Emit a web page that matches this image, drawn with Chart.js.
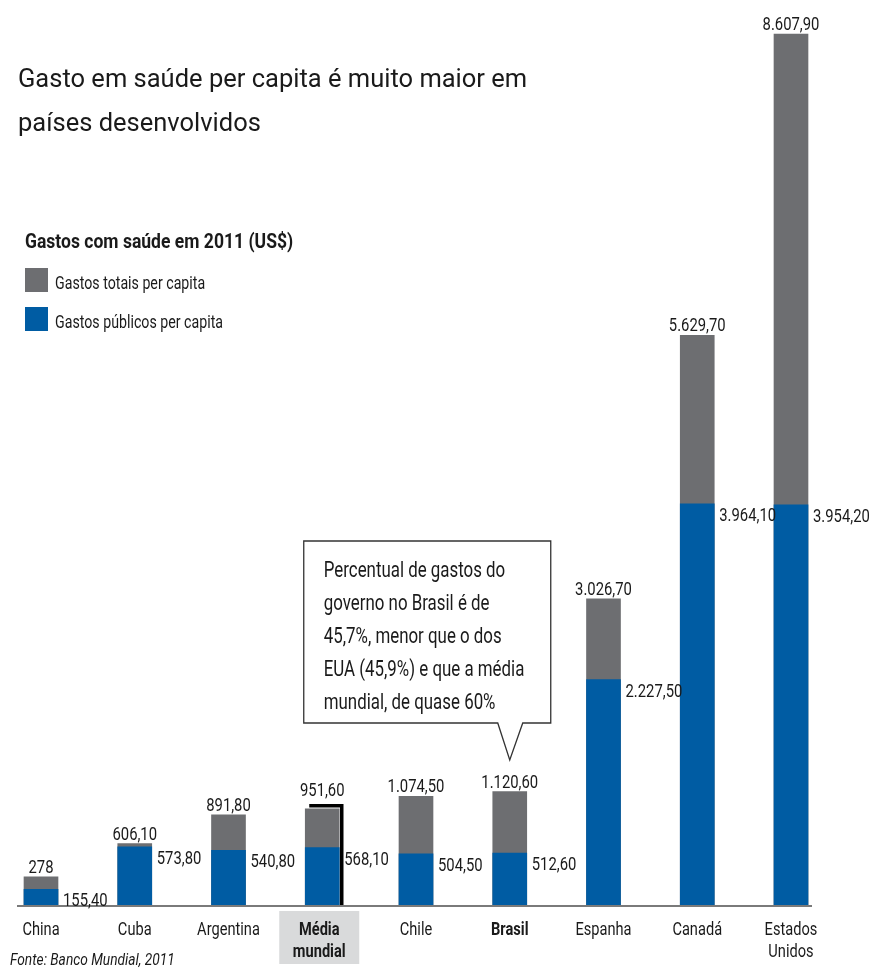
<!DOCTYPE html>
<html lang="pt-BR">
<head>
<meta charset="utf-8">
<script src="https://cdn.jsdelivr.net/npm/chart.js@4.4.1/dist/chart.umd.min.js"></script>
<style>
  html, body { margin: 0; padding: 0; background: #fff; }
  body { width: 874px; height: 971px; position: relative; overflow: hidden;
         font-family: Roboto, 'Noto Sans', sans-serif; color: #1a1a1a; }
  #wrap { position: absolute; left: 0; top: 0; width: 874px; height: 971px; }
  .t { position: absolute; white-space: nowrap; transform-origin: 0 0; }
  .title { left: 18px; top: 56px; font-size: 26px; line-height: 44px; }
  .sub { left: 25px; top: 230px; font-size: 19.5px; line-height: 24px; font-weight: bold; }
  .leg { left: 55px; font-size: 17.5px; line-height: 24px; }
  .sw { position: absolute; left: 25px; width: 23px; height: 24px; }
  .fonte { left: 10px; top: 949px; font-size: 17px; line-height: 20px; font-style: italic; }
</style>
</head>
<body>
<div id="wrap"><canvas id="chart" width="874" height="971"></canvas></div>
<div class="t title" data-w="509">Gasto em saúde per capita é muito maior em<br>países desenvolvidos</div>
<div class="t sub" data-w="268">Gastos com saúde em 2011 (US$)</div>
<div class="sw" style="top:268px;background:#6d6e71"></div>
<div class="t leg" style="top:271px" data-w="150">Gastos totais per capita</div>
<div class="sw" style="top:307px;background:#005ca3"></div>
<div class="t leg" style="top:310px" data-w="168">Gastos públicos per capita</div>
<div class="t fonte" data-w="165">Fonte: Banco Mundial, 2011</div>
<script>
// dados (US$ per capita, 2011)
const paises = [['China'], ['Cuba'], ['Argentina'], ['Média', 'mundial'], ['Chile'], ['Brasil'], ['Espanha'], ['Canadá'], ['Estados', 'Unidos']];
const gastosTotais = [278, 606.1, 891.8, 951.6, 1074.5, 1120.6, 3026.7, 5629.7, 8607.9];
const gastosPublicos = [155.4, 573.8, 540.8, 568.1, 504.5, 512.6, 2227.5, 3964.1, 3954.2];
const destaques = [3, 5]; // Média mundial, Brasil
const notaBrasil = ['Percentual de gastos do', 'governo no Brasil é de', '45,7%, menor que o dos', 'EUA (45,9%) e que a média', 'mundial, de quase 60%'];

const CINZA = '#6d6e71';
const AZUL = '#005ca3';
const TEXTO = '#1a1a1a';
const FONTE = "Roboto, 'Noto Sans', sans-serif";

// encolhe o texto html até a largura do original (fonte condensada)
document.querySelectorAll('.t').forEach(el => {
  const w = el.scrollWidth;
  el.style.transform = 'scaleX(' + (Number(el.dataset.w) / w) + ')';
});

// 8.607,90 / 278
function fmt(v) {
  let s = Number.isInteger(v) ? String(v) : v.toFixed(2);
  let [int, dec] = s.split('.');
  int = int.replace(/\B(?=(\d{3})+(?!\d))/g, '.');
  return dec ? int + ',' + dec : int;
}

// texto condensado no canvas
function txt(ctx, s, x, y, align, sx) {
  ctx.save();
  ctx.translate(x, y);
  ctx.scale(sx, 1);
  ctx.textAlign = align;
  ctx.fillText(s, 0, 0);
  ctx.restore();
}

const decoracao = {
  id: 'decoracao',
  afterDatasetsDraw(chart) {
    const ctx = chart.ctx;
    const x = chart.scales.x;
    const area = chart.chartArea;
    const metaTot = chart.getDatasetMeta(0);
    const metaPub = chart.getDatasetMeta(1);
    ctx.save();

    // linha da base
    ctx.strokeStyle = '#7a7a7a';
    ctx.lineWidth = 2;
    ctx.beginPath();
    ctx.moveTo(x.getPixelForValue(0) - 24, area.bottom + 1);
    ctx.lineTo(x.getPixelForValue(paises.length - 1) + 21, area.bottom + 1);
    ctx.stroke();

    // moldura da média mundial
    const bm = metaTot.data[3];
    const l = bm.x - bm.width / 2, r = bm.x + bm.width / 2;
    ctx.strokeStyle = '#000';
    ctx.lineWidth = 3.5;
    ctx.beginPath();
    ctx.moveTo(l + 4, bm.y - 3);
    ctx.lineTo(r + 2.5, bm.y - 3);
    ctx.lineTo(r + 2.5, area.bottom);
    ctx.stroke();

    // valores
    ctx.fillStyle = TEXTO;
    ctx.font = '19px ' + FONTE;
    ctx.textBaseline = 'alphabetic';
    metaTot.data.forEach((b, i) => {
      txt(ctx, fmt(gastosTotais[i]), b.x, b.y - (i === 3 ? 13 : 4), 'center', 0.78);
    });
    metaPub.data.forEach((b, i) => {
      txt(ctx, fmt(gastosPublicos[i]), b.x + b.width / 2 + 5, b.y + 17, 'left', 0.78);
    });

    // rótulos das categorias
    paises.forEach((lines, i) => {
      const cx = x.getPixelForValue(i);
      if (i === 3) {
        ctx.fillStyle = '#d9dadb';
        ctx.fillRect(cx - 43, area.bottom + 6, 80, 53);
      }
      ctx.fillStyle = TEXTO;
      ctx.font = (destaques.includes(i) ? 'bold ' : '') + '19px ' + FONTE;
      lines.forEach((t, k) => txt(ctx, t, cx - (i === 3 ? 3 : 0), area.bottom + 30 + k * 22, 'center', 0.77));
    });

    // balão sobre o Brasil
    const tx = x.getPixelForValue(5);
    const ty = 760;
    const bl = tx - 206, br = tx + 41, bt = 541, bb = 723;
    ctx.beginPath();
    ctx.moveTo(bl, bt);
    ctx.lineTo(br, bt);
    ctx.lineTo(br, bb);
    ctx.lineTo(tx + 13, bb);
    ctx.lineTo(tx, ty);
    ctx.lineTo(tx - 12, bb);
    ctx.lineTo(bl, bb);
    ctx.closePath();
    ctx.fillStyle = '#fff';
    ctx.fill();
    ctx.strokeStyle = '#333';
    ctx.lineWidth = 1.3;
    ctx.stroke();
    ctx.fillStyle = TEXTO;
    ctx.font = '22.5px ' + FONTE;
    notaBrasil.forEach((t, k) => txt(ctx, t, bl + 20, 577 + k * 33, 'left', 0.75));

    ctx.restore();
  }
};

new Chart(document.getElementById('chart'), {
  type: 'bar',
  data: {
    labels: paises,
    datasets: [
      { label: 'Gastos totais per capita', data: gastosTotais, backgroundColor: CINZA, order: 1, clip: false },
      { label: 'Gastos públicos per capita', data: gastosPublicos, backgroundColor: AZUL, order: 0, clip: false },
    ],
  },
  options: {
    responsive: false,
    animation: false,
    barThickness: 34,
    layout: { padding: { left: 41, right: 83, top: 34, bottom: 66 } },
    plugins: { legend: { display: false }, tooltip: { enabled: false } },
    scales: {
      x: { stacked: true, offset: false, display: false },
      y: { stacked: false, display: false, min: 0, max: Math.max(...gastosTotais) },
    },
  },
  plugins: [decoracao],
});
</script>
</body>
</html>
